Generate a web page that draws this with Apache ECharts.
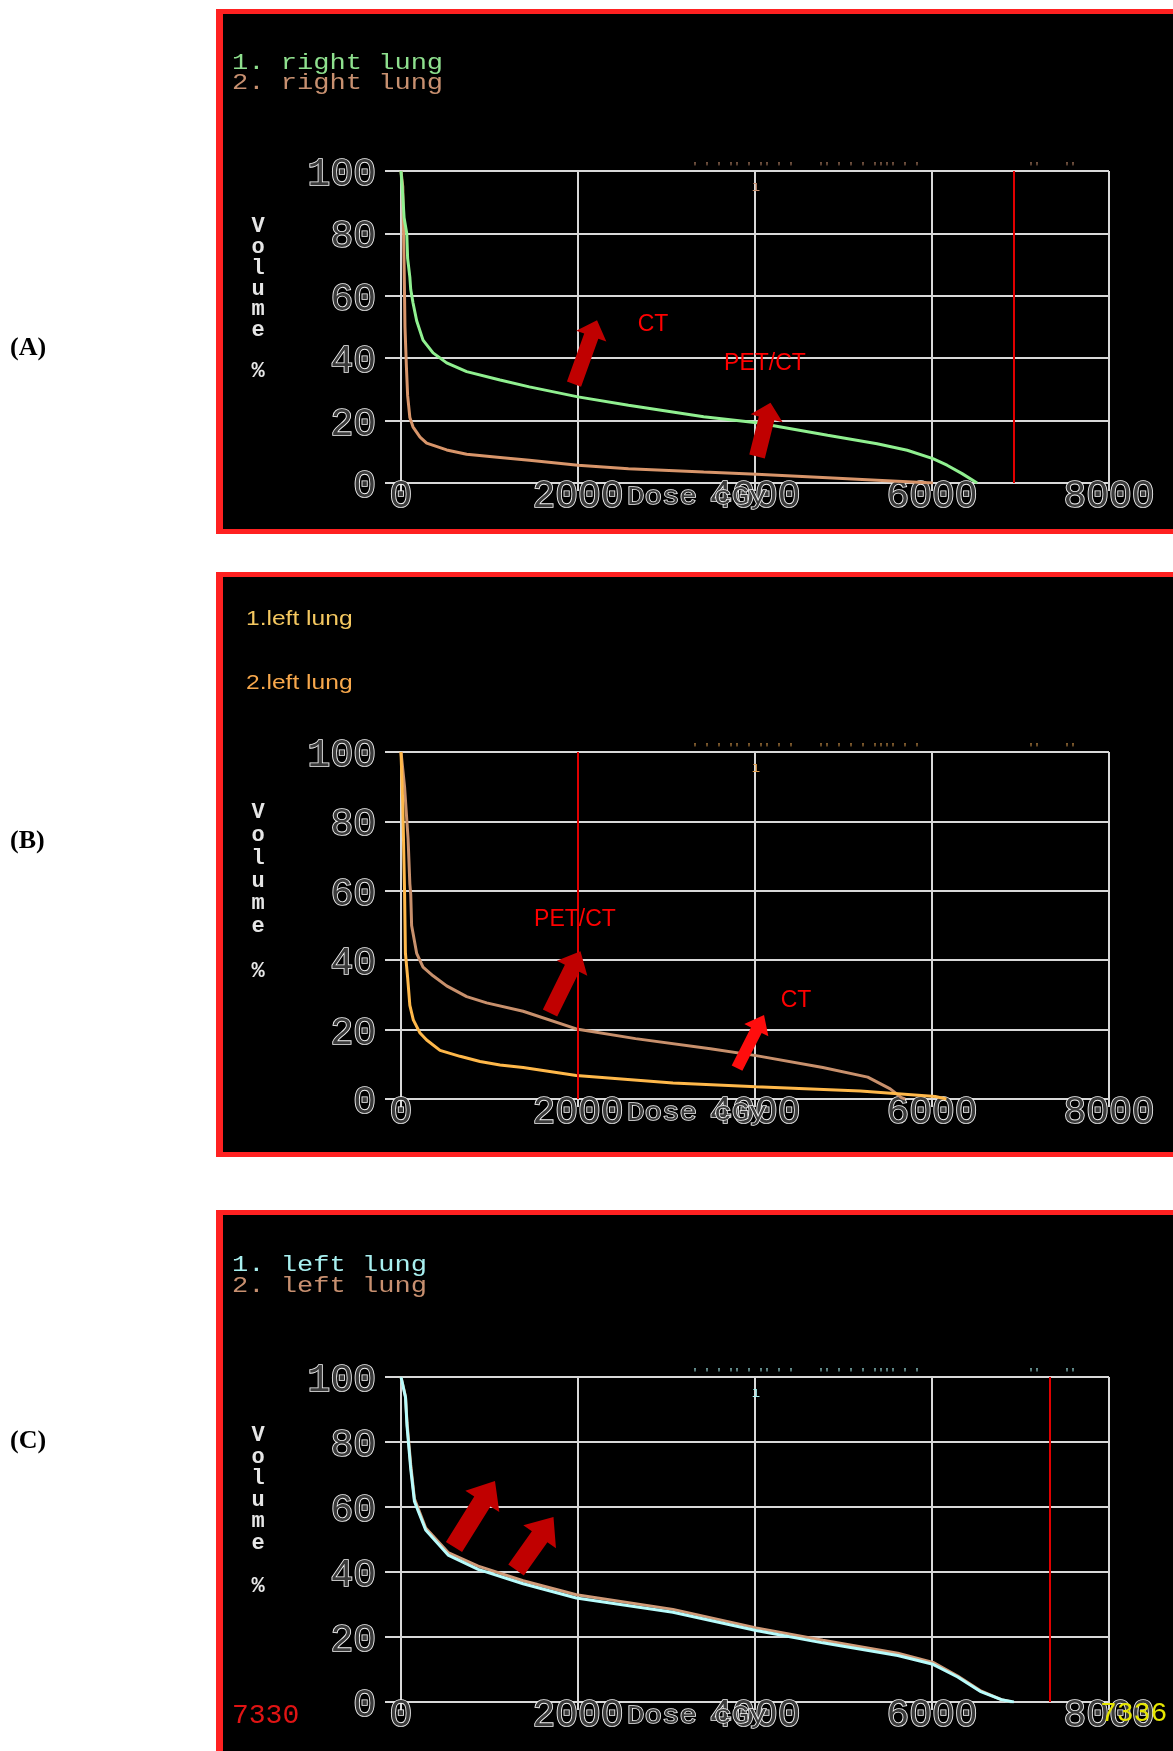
<!DOCTYPE html>
<html><head><meta charset="utf-8">
<script src="https://cdn.jsdelivr.net/npm/echarts@6/dist/echarts.min.js"></script>
<style>html,body{margin:0;padding:0;background:#fff}#c{width:1173px;height:1751px}</style>
</head><body><div id="c"></div>
<script>
// ---------- tick labels ----------
const xTicks = [0, 2000, 4000, 6000, 8000];
const yTicks = [0, 20, 40, 60, 80, 100];

// ---------- Panel A: right lung ----------
const doseA1 = [0, 20, 35, 65, 75, 100, 110, 136, 177, 249, 362, 516, 742, 1119, 1450, 2000, 2570, 3420, 4020, 4820, 5380, 5720, 6010, 6170, 6340, 6510];
const volA1  = [100, 92, 85, 80, 72, 66, 62, 57.7, 52, 45.8, 41.7, 38.5, 35.7, 33, 30.8, 27.6, 24.9, 21.2, 19.3, 15.3, 12.6, 10.5, 7.8, 5.7, 3, 0];
const doseA2 = [0, 20, 35, 45, 60, 75, 100, 135, 215, 290, 516, 742, 1119, 1450, 2000, 2570, 3420, 4020, 4820, 5380, 6010];
const volA2  = [100, 95, 70, 50, 38, 28, 21, 18, 14.7, 12.8, 10.6, 9.2, 8.2, 7.3, 5.7, 4.6, 3.5, 2.8, 1.7, 0.9, 0];
const refDoseA = 6920;

// ---------- Panel B: left lung ----------
const doseB1 = [0, 20, 40, 50, 75, 100, 139, 215, 290, 441, 667, 893, 1119, 1380, 1981, 3073, 4013, 5190, 6036, 6163];
const volB1  = [100, 85, 60, 42, 35, 27, 22.8, 19, 17, 14, 12.3, 10.8, 9.8, 9.1, 6.8, 4.6, 3.5, 2.3, 0.7, 0];
const doseB2 = [0, 40, 80, 100, 110, 120, 177, 249, 362, 516, 742, 968, 1380, 1981, 2650, 3496, 4013, 4766, 5274, 5528, 5655, 5697];
const volB2  = [100, 90, 75, 62, 59, 50, 42, 38, 35.5, 32.6, 29.5, 27.7, 25.3, 20.2, 17.4, 14.5, 12.5, 9.1, 6.3, 2.9, 0.4, 0];
const refDoseB = 2000;

// ---------- Panel C: left lung ----------
const doseC1 = [0, 51, 68, 110, 152, 279, 533, 872, 1380, 1981, 3073, 4013, 4766, 5613, 6011, 6290, 6544, 6798, 6925];
const volC1  = [100, 93.7, 84.9, 71.7, 61.7, 52.9, 45.2, 40.8, 36.4, 32, 27.6, 22, 18.2, 14.3, 11.6, 7.7, 3.3, 0.6, 0];
const doseC2 = [0, 51, 68, 110, 152, 279, 533, 872, 1380, 1981, 3073, 4013, 4766, 5613, 6011, 6290, 6544, 6798, 6900];
const volC2  = [100, 94, 86, 73, 62.5, 53.5, 46, 41.8, 37.3, 33, 28.5, 22.8, 19, 15, 12.2, 8, 3.5, 0.6, 0];
const refDoseC = 7330;

// ---------- legends / texts ----------
const legendA = ['1. right lung', '2. right lung'];
const legendB = ['1.left lung', '2.left lung'];
const legendC = ['1. left lung', '2. left lung'];
const panelNames = ['(A)', '(B)', '(C)'];

// ---------- annotations (data coordinates) ----------
const arrowsA = [
  {from: [1955, 31.7], to: [2215, 52.2], color: '#c00000', shaft: 15, head: 32, headLen: 17},
  {from: [4023, 8.5], to: [4175, 25.7], color: '#c00000', shaft: 16, head: 33, headLen: 16}
];
const textsA = [{at: [2848, 50.6], text: 'CT'}, {at: [4113, 38.1], text: 'PET/CT'}];
const arrowsB = [
  {from: [1684, 24.8], to: [2028, 42.6], color: '#c00000', shaft: 16, head: 34, headLen: 19},
  {from: [3797, 8.9], to: [4102, 24.2], color: '#ff0d0d', shaft: 12, head: 27, headLen: 17}
];
const textsB = [{at: [1966, 51.6], text: 'PET/CT'}, {at: [4464, 28.2], text: 'CT'}];
const arrowsC = [
  {from: [599, 47.7], to: [1062, 68], color: '#c00000', shaft: 19, head: 40, headLen: 24},
  {from: [1300, 40.6], to: [1723, 56.9], color: '#c00000', shaft: 19, head: 40, headLen: 24}
];
const textsC = [];

function zip(a, b) { return a.map((v, i) => [v, b[i]]); }

const GRID = '#d8d8d8';
const TXT = '#e6e6e6';
const MONO = '"Liberation Mono", "DejaVu Sans Mono", monospace';

const layout = [
  {top: 171, height: 312, boxTop: 9, boxBottom: 534, labelY: 348, volTop: 216.6, volLH: 20.7, mark: '#c89070'},
  {top: 752, height: 347, boxTop: 572, boxBottom: 1157, labelY: 841, volTop: 801.6, volLH: 22.7, mark: '#e0a050'},
  {top: 1377, height: 325, boxTop: 1210, boxBottom: 1800, labelY: 1441, volTop: 1424.75, volLH: 21.5, mark: '#a8f0f0'}
];

const panels = [
  {curves: [[doseA2, volA2, '#d8956a'], [doseA1, volA1, '#90f090']], ref: refDoseA, arrows: arrowsA, texts: textsA},
  {curves: [[doseB2, volB2, '#c8906c'], [doseB1, volB1, '#ffb84a']], ref: refDoseB, arrows: arrowsB, texts: textsB},
  {curves: [[doseC2, volC2, '#d09a78'], [doseC1, volC1, '#b8fcfc']], ref: refDoseC, arrows: arrowsC, texts: textsC}
];

const grids = [], xAxes = [], yAxes = [], series = [], graphics = [];

function arrowRender(list) {
  return function (params, api) {
    const a = list[params.dataIndex];
    const p0 = api.coord([api.value(0), api.value(1)]);
    const p1 = api.coord([api.value(2), api.value(3)]);
    const dx = p1[0] - p0[0], dy = p1[1] - p0[1];
    const L = Math.hypot(dx, dy), ux = dx / L, uy = dy / L, nx = -uy, ny = ux;
    const sw = a.shaft / 2, hw = a.head / 2, hl = a.headLen;
    const bx = p1[0] - ux * hl, by = p1[1] - uy * hl;
    const pts = [
      [p0[0] + nx * sw, p0[1] + ny * sw], [bx + nx * sw, by + ny * sw], [bx + nx * hw, by + ny * hw],
      [p1[0], p1[1]], [bx - nx * hw, by - ny * hw], [bx - nx * sw, by - ny * sw], [p0[0] - nx * sw, p0[1] - ny * sw]
    ];
    return {type: 'polygon', shape: {points: pts}, style: {fill: a.color}};
  };
}
function textRender(list) {
  return function (params, api) {
    const t = list[params.dataIndex];
    const p = api.coord([api.value(0), api.value(1)]);
    return {type: 'text', x: p[0], y: p[1], style: {text: t.text, fill: '#ff0000', font: '23px "Liberation Sans", Arial, sans-serif', align: 'center', verticalAlign: 'middle', textAlign: 'center', textVerticalAlign: 'middle'}};
  };
}

const tickFont = {fontFamily: MONO, fontSize: 38, color: '#3a3a3a', textBorderColor: '#f4f4f4', textBorderWidth: 1.7};

layout.forEach((L, i) => {
  grids.push({left: 401, top: L.top, width: 708, height: L.height, containLabel: false});
  const tickStyle = {color: GRID, width: 2};
  xAxes.push({
    gridIndex: i, type: 'value', min: xTicks[0], max: xTicks[xTicks.length - 1], interval: xTicks[1] - xTicks[0],
    position: 'bottom',
    axisLine: {show: true, onZero: false, lineStyle: tickStyle},
    axisTick: {show: true, length: 8, lineStyle: tickStyle},
    splitLine: {show: true, lineStyle: {color: GRID, width: 2}},
    axisLabel: Object.assign({show: true, margin: -5, lineHeight: 38, formatter: v => String(v)}, tickFont)
  });
  xAxes.push({
    gridIndex: i, type: 'value', min: xTicks[0], max: xTicks[xTicks.length - 1], interval: xTicks[1] - xTicks[0],
    position: 'top', axisLine: {show: false}, axisTick: {show: true, length: 9, lineStyle: tickStyle},
    splitLine: {show: false}, axisLabel: {show: false}
  });
  yAxes.push({
    gridIndex: i, type: 'value', min: yTicks[0], max: yTicks[yTicks.length - 1], interval: yTicks[1] - yTicks[0],
    position: 'left',
    axisLine: {show: true, onZero: false, lineStyle: tickStyle},
    axisTick: {show: true, length: 16, lineStyle: tickStyle},
    splitLine: {show: true, lineStyle: {color: GRID, width: 2}},
    axisLabel: Object.assign({show: true, margin: 25, verticalAlign: 'top', lineHeight: 8}, tickFont)
  });
  yAxes.push({
    gridIndex: i, type: 'value', min: yTicks[0], max: yTicks[yTicks.length - 1], interval: yTicks[1] - yTicks[0],
    position: 'right', axisLine: {show: false}, axisTick: {show: true, length: 11, lineStyle: tickStyle},
    splitLine: {show: false}, axisLabel: {show: false}
  });

  const P = panels[i];
  P.curves.forEach((c, k) => {
    const s = {
      type: 'line', xAxisIndex: 2 * i, yAxisIndex: 2 * i, data: zip(c[0], c[1]),
      showSymbol: false, symbol: 'none', lineStyle: {color: c[2], width: 3}, itemStyle: {color: c[2]},
      z: 3 + k, animation: false, silent: true
    };
    if (k === 0) {
      s.markLine = {silent: true, symbol: ['none', 'none'], label: {show: false}, animation: false,
        lineStyle: {color: '#e00000', width: 2, type: 'solid'}, data: [{xAxis: P.ref}]};
    }
    series.push(s);
  });
  series.push({
    type: 'custom', xAxisIndex: 2 * i, yAxisIndex: 2 * i, clip: false, z: 10, silent: true, animation: false,
    data: P.arrows.map(a => [a.from[0], a.from[1], a.to[0], a.to[1]]),
    encode: {x: [0, 2], y: [1, 3]}, renderItem: arrowRender(P.arrows)
  });
  if (P.texts.length) {
    series.push({
      type: 'custom', xAxisIndex: 2 * i, yAxisIndex: 2 * i, clip: false, z: 11, silent: true, animation: false,
      data: P.texts.map(t => t.at), encode: {x: 0, y: 1}, renderItem: textRender(P.texts)
    });
  }

  // panel box
  graphics.push({type: 'rect', z: -20, silent: true, shape: {x: 216, y: L.boxTop, width: 1000, height: L.boxBottom - L.boxTop}, style: {fill: '#ff2121'}});
  graphics.push({type: 'rect', z: -19, silent: true, shape: {x: 223, y: L.boxTop + 5, width: 1000, height: L.boxBottom - L.boxTop - 10}, style: {fill: '#000'}});
  // panel label
  graphics.push({type: 'text', z: 20, x: 10, y: L.labelY, style: {text: panelNames[i], fill: '#000', font: 'bold 26px "Liberation Serif", "Times New Roman", serif', align: 'left', verticalAlign: 'middle', textAlign: 'left', textVerticalAlign: 'middle'}});
  // Volume label
  graphics.push({type: 'text', z: 20, x: 258, y: L.volTop, style: {text: 'V\no\nl\nu\nm\ne\n\n%', lineHeight: L.volLH, fill: TXT, font: 'bold 22px ' + MONO, align: 'center', verticalAlign: 'top', textAlign: 'center', textVerticalAlign: 'top'}});
  // Dose cGy
  graphics.push({type: 'text', z: 20, x: 627, y: L.top + L.height + 14, scaleX: 1.12, style: {text: 'Dose cGy', fill: '#3a3a3a', stroke: '#f4f4f4', lineWidth: 1.5, font: '26px ' + MONO, align: 'left', verticalAlign: 'middle', textAlign: 'left', textVerticalAlign: 'middle'}});
  // clipped header marks along the 100 line
  graphics.push({type: 'text', z: 20, x: 692, y: L.top + 1, style: {text: "' ' ' '' ' '' ' '", fill: L.mark, font: '10px ' + MONO, align: 'left', verticalAlign: 'bottom', textAlign: 'left', textVerticalAlign: 'bottom'}});
  graphics.push({type: 'text', z: 20, x: 818, y: L.top + 1, style: {text: "'' ' ' ' '''' ' '", fill: L.mark, font: '10px ' + MONO, align: 'left', verticalAlign: 'bottom', textAlign: 'left', textVerticalAlign: 'bottom'}});
  graphics.push({type: 'text', z: 20, x: 1028, y: L.top + 1, style: {text: "''    ''", fill: L.mark, font: '10px ' + MONO, align: 'left', verticalAlign: 'bottom', textAlign: 'left', textVerticalAlign: 'bottom'}});
  graphics.push({type: 'text', z: 20, x: 756, y: L.top + 16, style: {text: 'ı', fill: L.mark, font: '14px ' + MONO, align: 'center', verticalAlign: 'middle', textAlign: 'center', textVerticalAlign: 'middle'}});
});

// legends
function monoLegend(x, y, txt, color) {
  graphics.push({type: 'text', z: 20, x: x, y: y, scaleX: 1.23, style: {text: txt, fill: color, font: '22px ' + MONO, align: 'left', verticalAlign: 'middle', textAlign: 'left', textVerticalAlign: 'middle'}});
}
monoLegend(232, 63, legendA[0], '#8ee08e');
monoLegend(232, 83, legendA[1], '#c89070');
graphics.push({type: 'text', z: 20, x: 246, y: 619, scaleX: 1.17, style: {text: legendB[0], fill: '#f5c860', font: '21px "Liberation Sans", Arial, sans-serif', align: 'left', verticalAlign: 'middle', textAlign: 'left', textVerticalAlign: 'middle'}});
graphics.push({type: 'text', z: 20, x: 246, y: 683, scaleX: 1.17, style: {text: legendB[1], fill: '#f8a84c', font: '21px "Liberation Sans", Arial, sans-serif', align: 'left', verticalAlign: 'middle', textAlign: 'left', textVerticalAlign: 'middle'}});
monoLegend(232, 1265, legendC[0], '#a8f0f0');
monoLegend(232, 1286, legendC[1], '#c89070');

// dose readouts of panel C
graphics.push({type: 'text', z: 20, x: 232, y: 1716, style: {text: String(refDoseC), fill: '#e01414', font: '28px ' + MONO, align: 'left', verticalAlign: 'middle', textAlign: 'left', textVerticalAlign: 'middle'}});
graphics.push({type: 'text', z: 20, x: 1100, y: 1714, style: {text: '7336', fill: '#e6e600', font: '28px ' + MONO, align: 'left', verticalAlign: 'middle', textAlign: 'left', textVerticalAlign: 'middle'}});

const chart = echarts.init(document.getElementById('c'), null, {renderer: 'canvas', width: 1173, height: 1751});
chart.setOption({
  backgroundColor: '#ffffff',
  animation: false,
  grid: grids, xAxis: xAxes, yAxis: yAxes, series: series,
  graphic: {elements: graphics}
});
</script>
</body></html>
